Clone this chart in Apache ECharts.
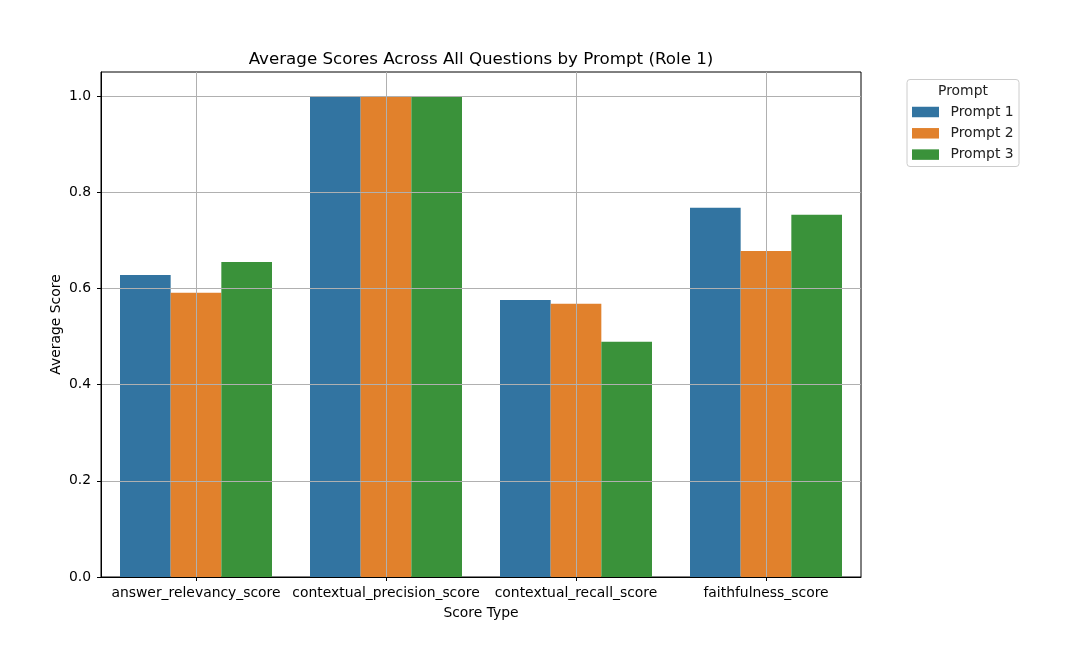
<!DOCTYPE html>
<html>
<head>
<meta charset="utf-8">
<script src="https://cdn.jsdelivr.net/npm/echarts@6/dist/echarts.min.js"></script>
<style>html,body{margin:0;padding:0;background:#fff}#c{width:1069px;height:670px}</style>
</head>
<body>
<div id="c"></div>
<script>
const categories = ['answer_relevancy_score','contextual_precision_score','contextual_recall_score','faithfulness_score'];
const prompt1 = [0.628, 1.0, 0.576, 0.768];
const prompt2 = [0.591, 1.0, 0.568, 0.678];
const prompt3 = [0.655, 1.0, 0.489, 0.753];
const seriesNames = ['Prompt 1','Prompt 2','Prompt 3'];
const yTicks = [0, 0.2, 0.4, 0.6, 0.8, 1.0];

const colors = ['#3274a1','#e1812c','#3a923a'];
const font = 'DejaVu Sans';
const chart = echarts.init(document.getElementById('c'), null, {renderer:'canvas'});
const vals = [prompt1, prompt2, prompt3];
const series = seriesNames.map((n,i)=>({
  name:n, type:'bar', data: vals[i], barGap:'0%', barCategoryGap:'20%',
  itemStyle:{color:colors[i]}, z:2
}));
series.push({
  name:'_grid', type:'line', data: categories.map(()=>null), showSymbol:false, silent:true,
  lineStyle:{opacity:0}, z:5,
  markLine:{
    silent:true, symbol:'none', z:5, animation:false,
    label:{show:false},
    lineStyle:{color:'#b0b0b0', type:'solid', width:1},
    data: categories.map(c=>({xAxis:c}))
  }
});
chart.setOption({
  animation:false,
  title:{text:'Average Scores Across All Questions by Prompt (Role 1)', left:476, top:46, textAlign:'center',
    textStyle:{fontFamily:font, fontSize:16.7, fontWeight:'normal', color:'#000'}},
  grid:{left:101, right:208, top:72, bottom:93, show:true, borderColor:'#000', borderWidth:1, backgroundColor:'transparent'},
  legend:{orient:'vertical', left:912, top:105, padding:0, itemWidth:27, itemHeight:10.5, itemGap:7.3,
    icon:'rect', data:seriesNames,
    textStyle:{fontFamily:font, fontSize:13.9, color:'#222', padding:[0,0,0,6.5]}},
  graphic:[
    {type:'rect', shape:{x:907, y:79.5, width:112, height:87, r:3}, style:{fill:'rgba(255,255,255,0.8)', stroke:'#cccccc', lineWidth:1}, z:-1},
    {type:'text', x:963, y:91, style:{text:'Prompt', fontFamily:font, fontSize:13.9, fill:'#222', textAlign:'center', textVerticalAlign:'middle'}}
  ],
  xAxis:{type:'category', data:categories, z:3,
    name:'Score Type', nameLocation:'middle', nameGap:29, nameMoveOverlap:false,
    nameTextStyle:{fontFamily:font, fontSize:13.9, color:'#000'},
    axisLine:{show:true, lineStyle:{color:'#000'}},
    axisTick:{show:true, alignWithLabel:true, length:4, lineStyle:{color:'#000'}},
    axisLabel:{fontFamily:font, fontSize:13.9, color:'#000', margin:9, interval:0},
    splitLine:{show:false}},
  yAxis:{type:'value', min:0, max:1.05, z:3,
    name:'Average Score', nameLocation:'middle', nameGap:38, nameMoveOverlap:false,
    nameTextStyle:{fontFamily:font, fontSize:13.9, color:'#000'},
    axisLine:{show:true, lineStyle:{color:'#000'}},
    axisTick:{show:true, length:4, lineStyle:{color:'#000'}, customValues: yTicks},
    axisLabel:{fontFamily:font, fontSize:13.9, color:'#000', margin:10, customValues: yTicks, formatter:v=>v.toFixed(1)},
    splitLine:{show:true, lineStyle:{color:'#b0b0b0', width:1}}},
  series
});
</script>
</body>
</html>
